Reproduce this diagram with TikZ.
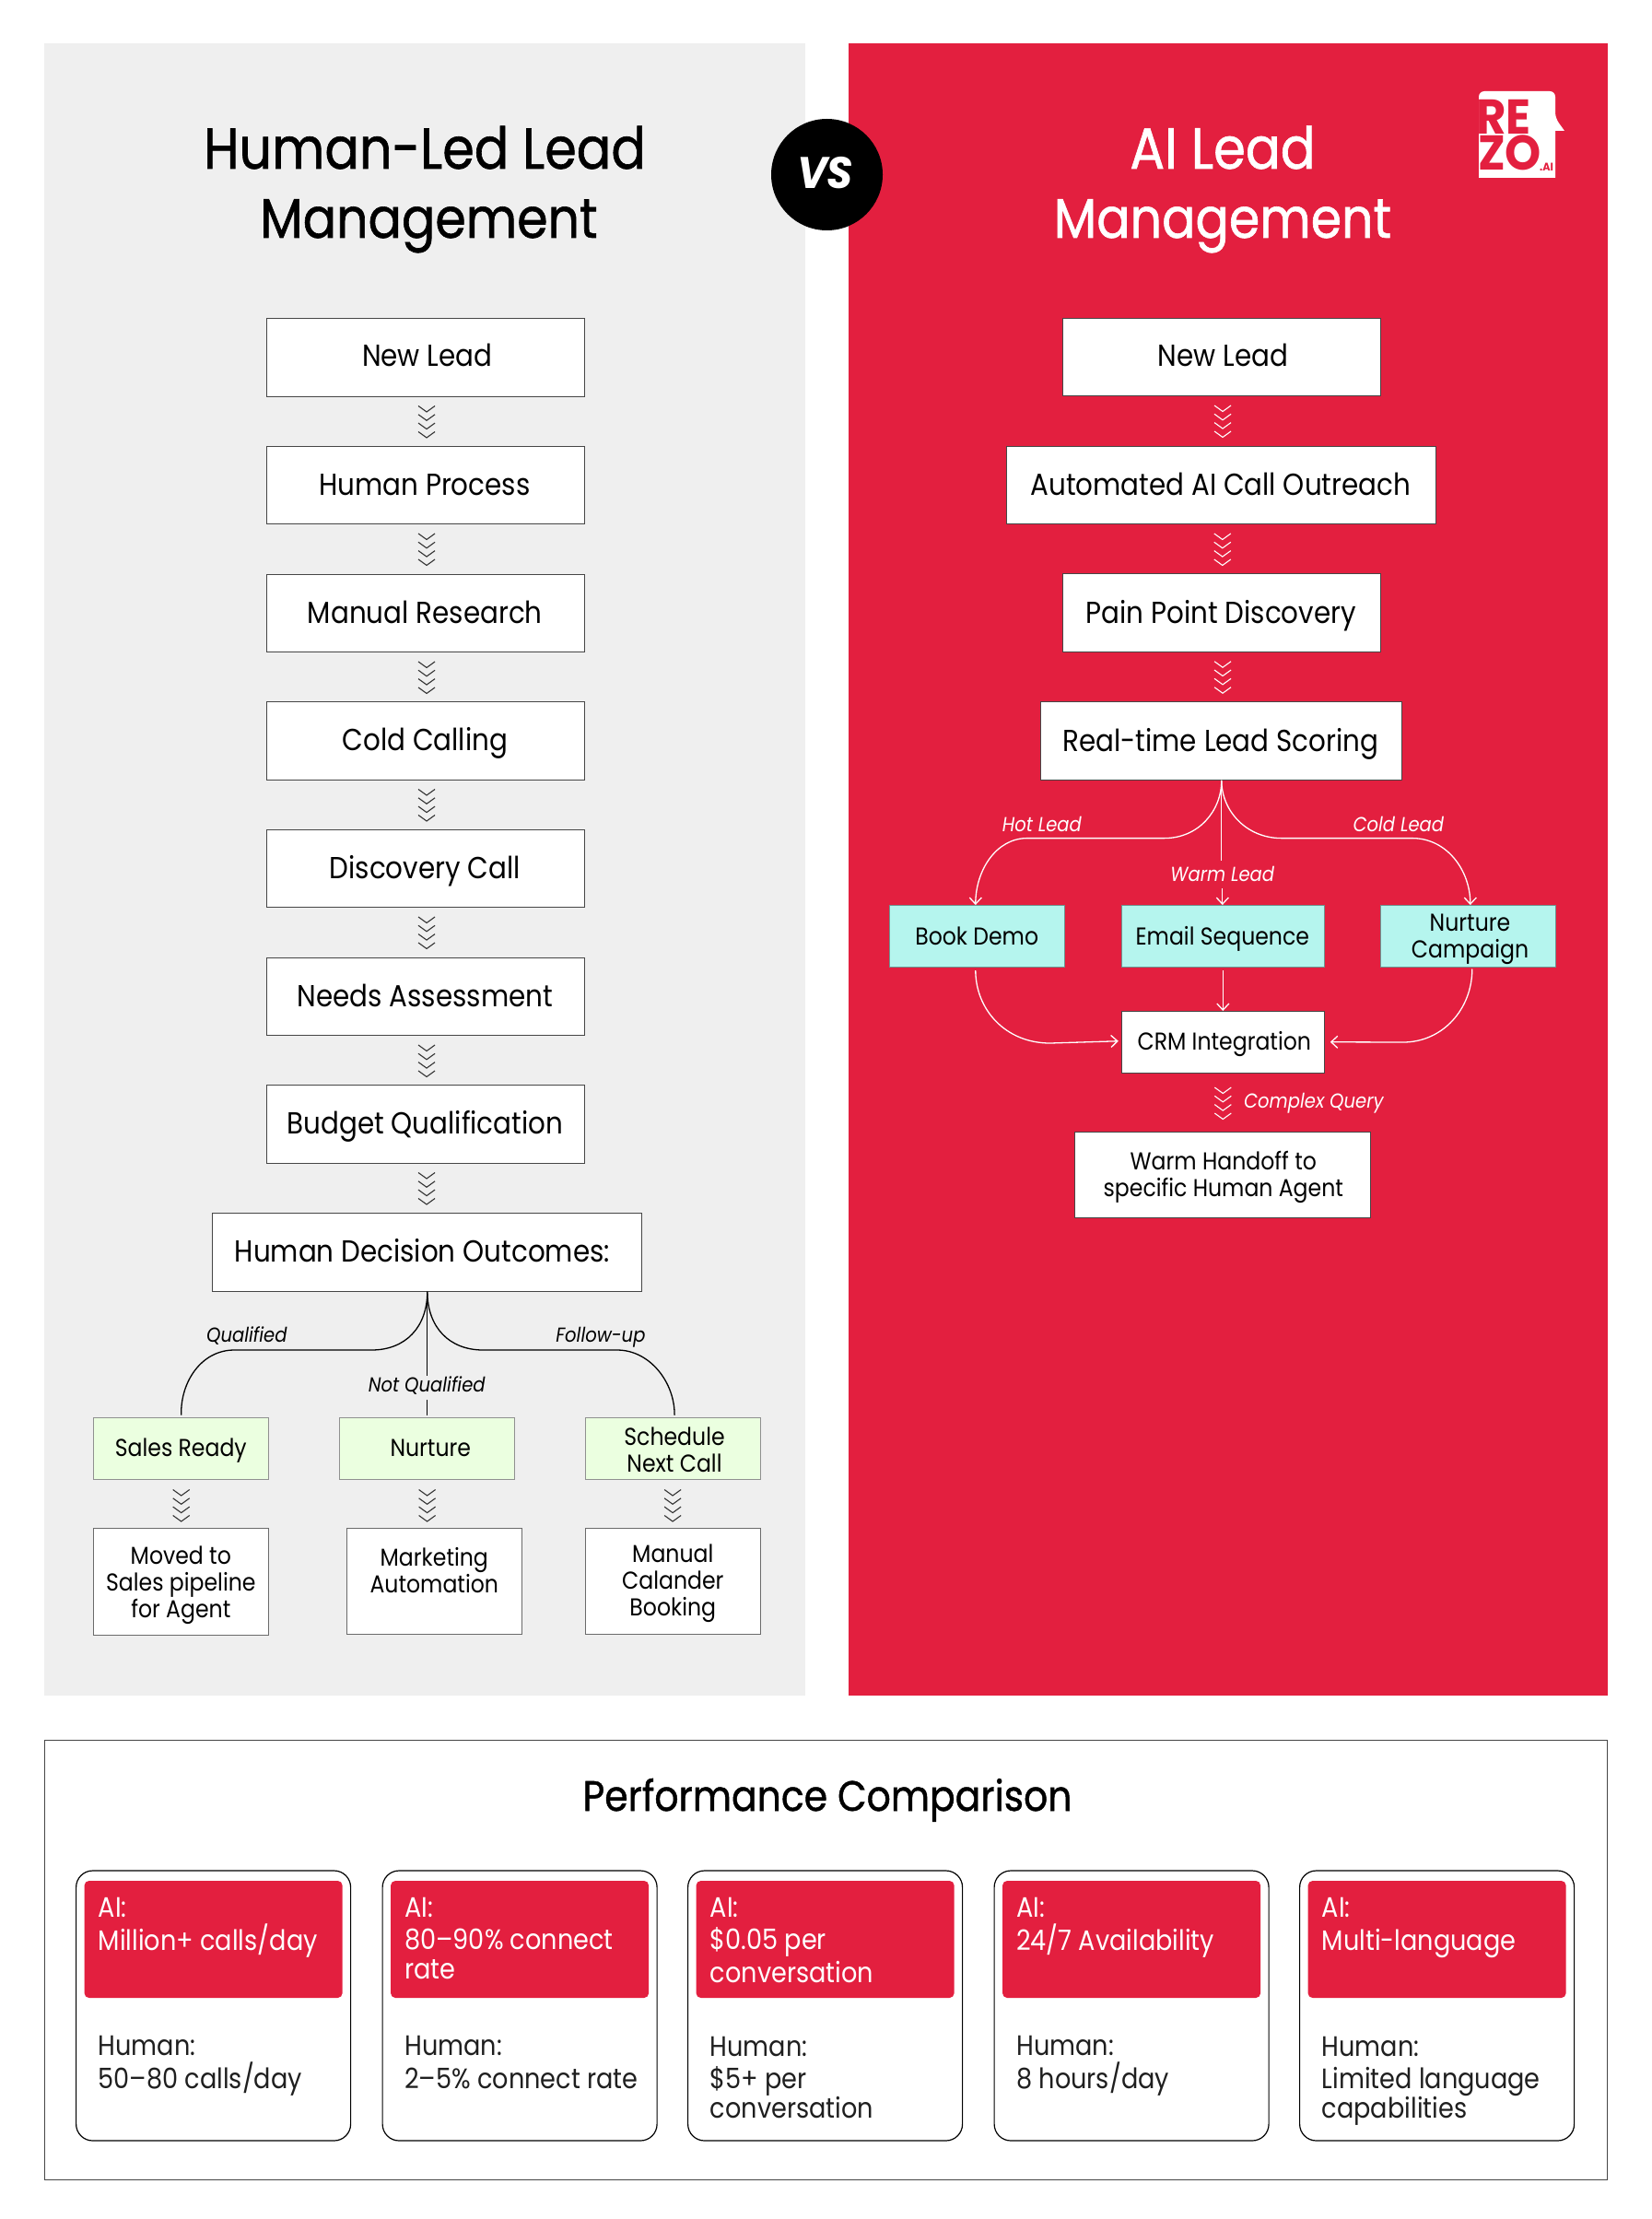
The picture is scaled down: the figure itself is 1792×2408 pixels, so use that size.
\documentclass[tikz,border=0pt]{standalone}
\usepackage{fontspec}
\usetikzlibrary{arrows.meta,decorations.markings}
\setmainfont{Poppins}[FakeStretch=0.89]
\newfontfamily\titlefont{Poppins}[FakeStretch=0.89,FakeBold=1.0]
\newfontfamily\logofont{Poppins}[FakeStretch=0.94,UprightFont=* Bold,BoldFont=* Bold]
\definecolor{rezored}{RGB}{227,31,63}
\definecolor{panelgrey}{RGB}{239,239,239}
\definecolor{teal}{RGB}{181,245,238}
\definecolor{mint}{RGB}{235,255,224}
\definecolor{edge}{RGB}{70,70,70}
\newcommand{\chevmark}{\draw[chevstroke] (-6.5,-9)--(0,0)--(-6.5,9);}
\tikzset{
  x=1pt,y=-1pt,
  chevstroke/.style={line width=1.1pt,draw=chevcol},
  box/.style={draw=edge,line width=1pt,fill=white,inner sep=0pt,rectangle},
  tealbox/.style={box,fill=teal,draw=teal!60!black},
  mintbox/.style={box,fill=mint,draw=edge!60!white},
  txt/.style={anchor=base,inner sep=0pt,align=center,font=\fontsize{33}{29}\selectfont},
  txtsm/.style={anchor=base,inner sep=0pt,align=center,font=\fontsize{26.5}{29}\selectfont},
  lbl/.style={anchor=base,inner sep=0pt,font=\fontsize{22}{24}\selectfont\itshape},
  chevs/.style={decoration={markings,
     mark=at position #1pt with {\chevmark},
     mark=at position #1pt+9.3pt with {\chevmark},
     mark=at position #1pt+18.6pt with {\chevmark},
     mark=at position #1pt+28pt with {\chevmark}},decorate},
  conn/.style={line width=1.3pt,draw=black},
  connw/.style={line width=1.3pt,draw=white},
  arr/.style={-{Straight Barb[length=7pt,width=13pt,line width=1.3pt]}},
  card/.style={draw=black,line width=1.2pt,fill=white,rounded corners=18pt,inner sep=0pt,rectangle},
  cardtop/.style={fill=rezored,rounded corners=5pt,inner sep=0pt,rectangle},
  cardtxt/.style={anchor=base west,inner sep=0pt,align=left,font=\fontsize{30.5}{31.5}\selectfont},
}
\begin{document}
\begin{tikzpicture}
\useasboundingbox (0,0) rectangle (1792,2408);
\fill[white] (0,0) rectangle (1792,2408);
% panels
\fill[panelgrey] (48,47) rectangle (874,1840);
\fill[rezored] (921,47) rectangle (1745,1840);
\node[circle,fill=black,minimum size=121pt,inner sep=0pt] (vscircle) at (897.5,189.5) {};
\node[anchor=base,inner sep=0pt,text=white,font=\logofont\fontsize{48}{48}\selectfont\itshape] (vs) at (895.5,205) {VS};
% titles
\node[anchor=base,inner sep=0pt,align=center,font=\titlefont\fontsize{62.5}{75}\selectfont] (titleL) at (461,258) {Human-Led Lead\\\hspace*{9pt}\fontsize{60.5}{75}\selectfont Management};
\node[anchor=base,inner sep=0pt,align=center,text=white,font=\titlefont\fontsize{63}{75}\selectfont] (titleR) at (1327,258) {AI Lead\\\fontsize{60.5}{75}\selectfont Management};
% logo
\fill[white,rounded corners=6pt] (1605,193) -- (1605,99) -- (1688,99) -- (1688,128) [sharp corners] -- (1698,142) -- (1688,142) [rounded corners=0pt] -- (1688,193) -- cycle;
\node[anchor=base west,inner sep=0pt,align=left,text=rezored,font=\logofont\fontsize{53}{39}\selectfont] (logoname) at (1602,185) {RE\\\hspace*{2pt}ZO};
\node[anchor=base west,inner sep=0pt,text=rezored,font=\logofont\fontsize{12}{12}\selectfont] (logoAI) at (1671,186) {.AI};
% left column boxes
\begin{scope}[xshift=0.3pt]
\node[box,minimum width=345.5pt,minimum height=84.5pt] (l1) at (461.75,387.75) {};
\node[box,minimum width=345.5pt,minimum height=84.5pt] (l2) at (461.75,526.25) {};
\node[box,minimum width=345.5pt,minimum height=84.5pt] (l3) at (461.75,665.25) {};
\node[box,minimum width=345.5pt,minimum height=84.5pt] (l4) at (461.75,803.75) {};
\node[box,minimum width=345.5pt,minimum height=84.5pt] (l5) at (461.75,942.25) {};
\node[box,minimum width=345.5pt,minimum height=84.5pt] (l6) at (461.75,1081.25) {};
\node[box,minimum width=345.5pt,minimum height=84.5pt] (l7) at (461.75,1219.75) {};
\node[box,minimum width=466pt,minimum height=84.5pt] (l8) at (463.5,1358.75) {};
\node[txt] (lt1) at (463.5,397.5) {New Lead};
\node[txt] (lt2) at (460.5,537) {Human Process};
\node[txt] (lt3) at (461,676) {Manual Research};
\node[txt] (lt4) at (461,814.5) {Cold Calling};
\node[txt] (lt5) at (461,953) {Discovery Call};
\node[txt] (lt6) at (461,1092) {Needs Assessment};
\node[txt] (lt7) at (461,1230.5) {Budget Qualification};
\node[txt] (lt8) at (458,1369) {Human Decision Outcomes:};
% left chevrons
\colorlet{chevcol}{black!80}
\foreach \a/\b in {l1/l2,l2/l3,l3/l4,l4/l5,l5/l6,l6/l7,l7/l8}
  \path[chevs=16.5] ([xshift=1pt]\a.south) -- ([xshift=1pt]\a.south |- \b.north);
% left outcomes
\node[mintbox,minimum width=190pt,minimum height=67pt] (g1) at (196.4,1571.5) {};
\node[mintbox,minimum width=190.5pt,minimum height=67pt] (g2) at (463.3,1571.5) {};
\node[mintbox,minimum width=190pt,minimum height=67pt] (g3) at (729.8,1571.5) {};
\node[box,draw=edge!80!white,minimum width=190pt,minimum height=116pt] (w1) at (196.4,1716) {};
\node[box,draw=edge!80!white,minimum width=190pt,minimum height=115.5pt] (w2) at (471,1715.75) {};
\node[box,draw=edge!80!white,minimum width=190pt,minimum height=115.5pt] (w3) at (729.8,1715.75) {};
\node[txtsm] (gt1) at (196,1580) {Sales Ready};
\node[txtsm] (gt2) at (467,1580) {Nurture};
\node[txtsm] (gt3) at (731.7,1597) {Schedule\\Next Call};
\node[txtsm] (wt1) at (196,1755) {Moved to\\Sales pipeline\\for Agent};
\node[txtsm] (wt2) at (471,1728) {Marketing\\Automation};
\node[txtsm] (wt3) at (730,1753) {Manual\\Calander\\Booking};
\path[chevs=17.5] (g1.south) -- (g1.south |- w1.north);
\path[chevs=17.5] (g2.south) -- (g2.south |- w2.north);
\path[chevs=17.5] (g3.south) -- (g3.south |- w3.north);
% left branch
\node[lbl] (qual) at (267.5,1456.7) {Qualified};
\node[lbl] (foll) at (651.6,1456.7) {Follow-up};
\node[lbl,text height=18pt,text depth=8pt] (notq) at (463,1510.7) {Not Qualified};
\draw[conn] (l8.south) .. controls (463.5,1440) and (440,1465) .. (403,1465) -- (254,1465) .. controls (218,1465) and (195.4,1500) .. ([yshift=2pt]g1.north);
\draw[conn] (l8.south) .. controls (463.5,1440) and (487,1465) .. (524,1465) -- (669.5,1465) .. controls (705,1465) and (732,1500) .. ([xshift=2pt,yshift=2pt]g3.north);
\draw[conn,line width=1.1pt] (l8.south) -- (l8.south |- notq.north);
\draw[conn,line width=1.1pt] (l8.south |- notq.south) -- ([yshift=2pt]l8.south |- g2.north);
\end{scope}
% right column boxes
\begin{scope}[xshift=0.8pt]
\node[box,minimum width=344.5pt,minimum height=84.5pt] (r1) at (1325.25,387.25) {};
\node[box,minimum width=466pt,minimum height=84.5pt] (r2) at (1325,526.25) {};
\node[box,minimum width=344.5pt,minimum height=84.5pt] (r3) at (1325.25,665) {};
\node[box,minimum width=392pt,minimum height=84.5pt] (r4) at (1325,804) {};
\node[txt] (rt1) at (1326.6,397) {New Lead};
\node[txt] (rt2) at (1324,537) {Automated AI Call Outreach};
\node[txt] (rt3) at (1324.5,676) {Pain Point Discovery};
\node[txt] (rt4) at (1324,815) {Real-time Lead Scoring};
\colorlet{chevcol}{white}
\foreach \a/\b in {r1/r2,r2/r3,r3/r4}
  \path[chevs=16.5] ([xshift=1pt]\a.south) -- ([xshift=1pt]\a.south |- \b.north);
\node[tealbox,minimum width=190pt,minimum height=66.5pt] (b1) at (1060,1015.75) {};
\node[tealbox,minimum width=220pt,minimum height=66.5pt] (b2) at (1326.5,1015.75) {};
\node[tealbox,minimum width=190pt,minimum height=66.5pt] (b3) at (1593,1015.75) {};
\node[box,minimum width=220pt,minimum height=66.5pt] (crm) at (1326.5,1130.75) {};
\node[box,minimum width=321pt,minimum height=93pt] (hand) at (1326.5,1274.5) {};
\node[txtsm] (bt1) at (1059.4,1025) {Book Demo};
\node[txtsm] (bt2) at (1326,1025) {Email Sequence};
\node[txtsm] (bt3) at (1594.7,1039) {Nurture\\Campaign};
\node[txtsm] (crmt) at (1328,1139) {CRM Integration};
\node[txtsm] (handt) at (1327,1298) {Warm Handoff to\\specific Human Agent};
\node[lbl,text=white] (hot) at (1130,902) {Hot Lead};
\node[lbl,text=white] (cold) at (1517,902) {Cold Lead};
\node[lbl,text=white,text height=22pt,text depth=8pt] (warm) at (1326,956) {Warm Lead};
\node[lbl,text=white,anchor=base west] (cq) at (1349,1202) {Complex Query};
\draw[connw,arr] (r4.south) .. controls (1325,880) and (1300,909.6) .. (1263,909.6) -- (1114,909.6) .. controls (1080,909.6) and (1058,945) .. ([xshift=-2pt]b1.north);
\draw[connw,arr] (r4.south) .. controls (1325,880) and (1352,909.6) .. (1390,909.6) -- (1532,909.6) .. controls (1570,909.6) and (1595,945) .. ([xshift=2pt]b3.north);
\draw[connw] (r4.south) -- (r4.south |- warm.north);
\draw[connw,arr] (warm.south) -- (warm.south |- b2.north);
\draw[connw,arr] ([xshift=-2pt,yshift=-3.5pt]b1.south) .. controls (1058,1095) and (1090,1132) .. (1139,1132) -- ([xshift=-3pt,yshift=1pt]crm.west);
\draw[connw,arr] ([xshift=4pt,yshift=-2pt]b3.south) .. controls (1597,1095) and (1565,1131) .. (1522,1131) -- ([xshift=6pt]crm.east);
\draw[connw,arr] ([yshift=-3.5pt]b2.south) -- (crm.north);
\path[chevs=22] (crm.south) -- (crm.south |- hand.north);
\end{scope}
% performance comparison
\node[box,draw=edge,minimum width=1696pt,minimum height=477pt] (perf) at (896,2127) {};
\node[anchor=base,inner sep=0pt,font=\titlefont\fontsize{46}{50}\selectfont] (perft) at (898,1965) {Performance Comparison};
\begin{scope}[xshift=0.6pt]
\foreach \n/\cx/\ay/\hy/\ai/\hu in {
  1/231/2116/2266/{AI:\\[4pt]Million+ calls/day}/{Human:\\[4pt]50–80 calls/day},
  2/563.5/2147/2266/{AI:\\[4pt]80–90\% connect\\rate}/{Human:\\[4pt]2–5\% connect rate},
  3/895/2151/2298/{AI:\\[4pt]\$0.05 per\\[4pt]conversation}/{Human:\\[4pt]\$5+ per\\conversation},
  4/1227.5/2116/2266/{AI:\\[4pt]24/7 Availability}/{Human:\\[4pt]8 hours/day},
  5/1559/2116/2298/{AI:\\[4pt]Multi-language}/{Human:\\[4pt]Limited language\\capabilities}}
{
  \node[card,minimum width=298pt,minimum height=293pt] (card\n) at (\cx,2176.5) {};
  \node[cardtop,minimum width=280pt,minimum height=127pt] (cardtop\n) at (\cx,2104.5) {};
  \node[cardtxt,text=white] (ai\n) at ([xshift=-125pt]\cx,\ay) {\ai};
  \node[cardtxt,text=black!88] (hu\n) at ([xshift=-125pt]\cx,\hy) {\hu};
}
\end{scope}
\end{tikzpicture}
\end{document}
